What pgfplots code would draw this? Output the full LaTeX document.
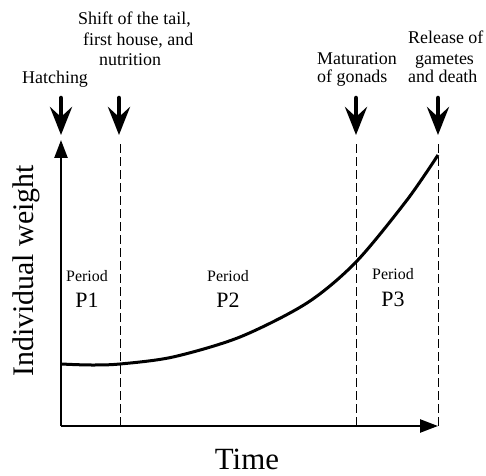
\documentclass[border=0pt]{standalone}
\usepackage{pgfplots}
\pgfplotsset{compat=1.18}
\usetikzlibrary{arrows.meta}
\usepackage{fontspec}
\setmainfont{Liberation Serif}
\begin{document}
\begin{tikzpicture}
\begin{axis}[
  scale only axis, width=377bp, height=286bp,
  xmin=0, xmax=377, ymin=0, ymax=286,
  axis lines=left,
  axis line style={line width=2.5bp, -{Triangle[length=18bp,width=13bp]}},
  xtick=\empty, ytick=\empty,
  clip=false,
]
% bounding box
\path (axis cs:-61,-50) rectangle (axis cs:425,426);
% growth curve
\addplot[smooth, line width=3bp, black] coordinates {
 (0,62) (29,61) (59,62) (112,69) (179,89) (246,123) (295,164) (346,226) (377,271)};
% dashed period boundaries
\addplot[line width=0.8bp, dash pattern=on 9bp off 4bp, black] coordinates {(59,0) (59,284)};
\addplot[line width=0.8bp, dash pattern=on 9bp off 4bp, black] coordinates {(295,0) (295,284)};
\addplot[line width=0.8bp, dash pattern=on 9bp off 4bp, black] coordinates {(377,0) (377,284)};
% event arrows
\pgfplotsset{evt/.style={line width=4.5bp, line cap=round, black, -{Stealth[length=28bp,width=22bp,inset=10bp]}}}
\addplot[evt] coordinates {(0,328) (0,291)};
\addplot[evt] coordinates {(58,328) (58,291)};
\addplot[evt] coordinates {(295,328) (295,291)};
\addplot[evt] coordinates {(377,328) (377,291)};
% event labels
\tikzset{lab/.style={anchor=base west, inner sep=0pt, font=\fontsize{18}{18}\selectfont}}
\node[lab] at (axis cs:-39,342) {Hatching};
\node[lab] at (axis cs:17,401) {Shift of the tail,};
\node[lab] at (axis cs:22,380) {first house, and};
\node[lab] at (axis cs:38,360) {nutrition};
\node[lab] at (axis cs:256,361) {Maturation};
\node[lab] at (axis cs:256,343) {of gonads};
\node[lab] at (axis cs:347,382) {Release of};
\node[lab] at (axis cs:354,361) {gametes};
\node[lab] at (axis cs:347,343) {and death};
% period labels
\tikzset{per/.style={anchor=base, inner sep=0pt, font=\fontsize{16}{16}\selectfont},
         pp/.style={anchor=base, inner sep=0pt, font=\fontsize{22}{22}\selectfont}}
\node[per] at (axis cs:26,144) {Period};
\node[pp] at (axis cs:26,118) {P1};
\node[per] at (axis cs:167,144) {Period};
\node[pp] at (axis cs:167,118) {P2};
\node[per] at (axis cs:332,146) {Period};
\node[pp] at (axis cs:332,119) {P3};
% axis titles
\node[anchor=base, inner sep=0pt, font=\fontsize{31}{31}\selectfont] at (axis cs:186,-43) {Time};
\node[anchor=base, inner sep=0pt, rotate=90, font=\fontsize{30}{30}\selectfont] at (axis cs:-27,155) {Individual weight};
\end{axis}
\end{tikzpicture}
\end{document}
